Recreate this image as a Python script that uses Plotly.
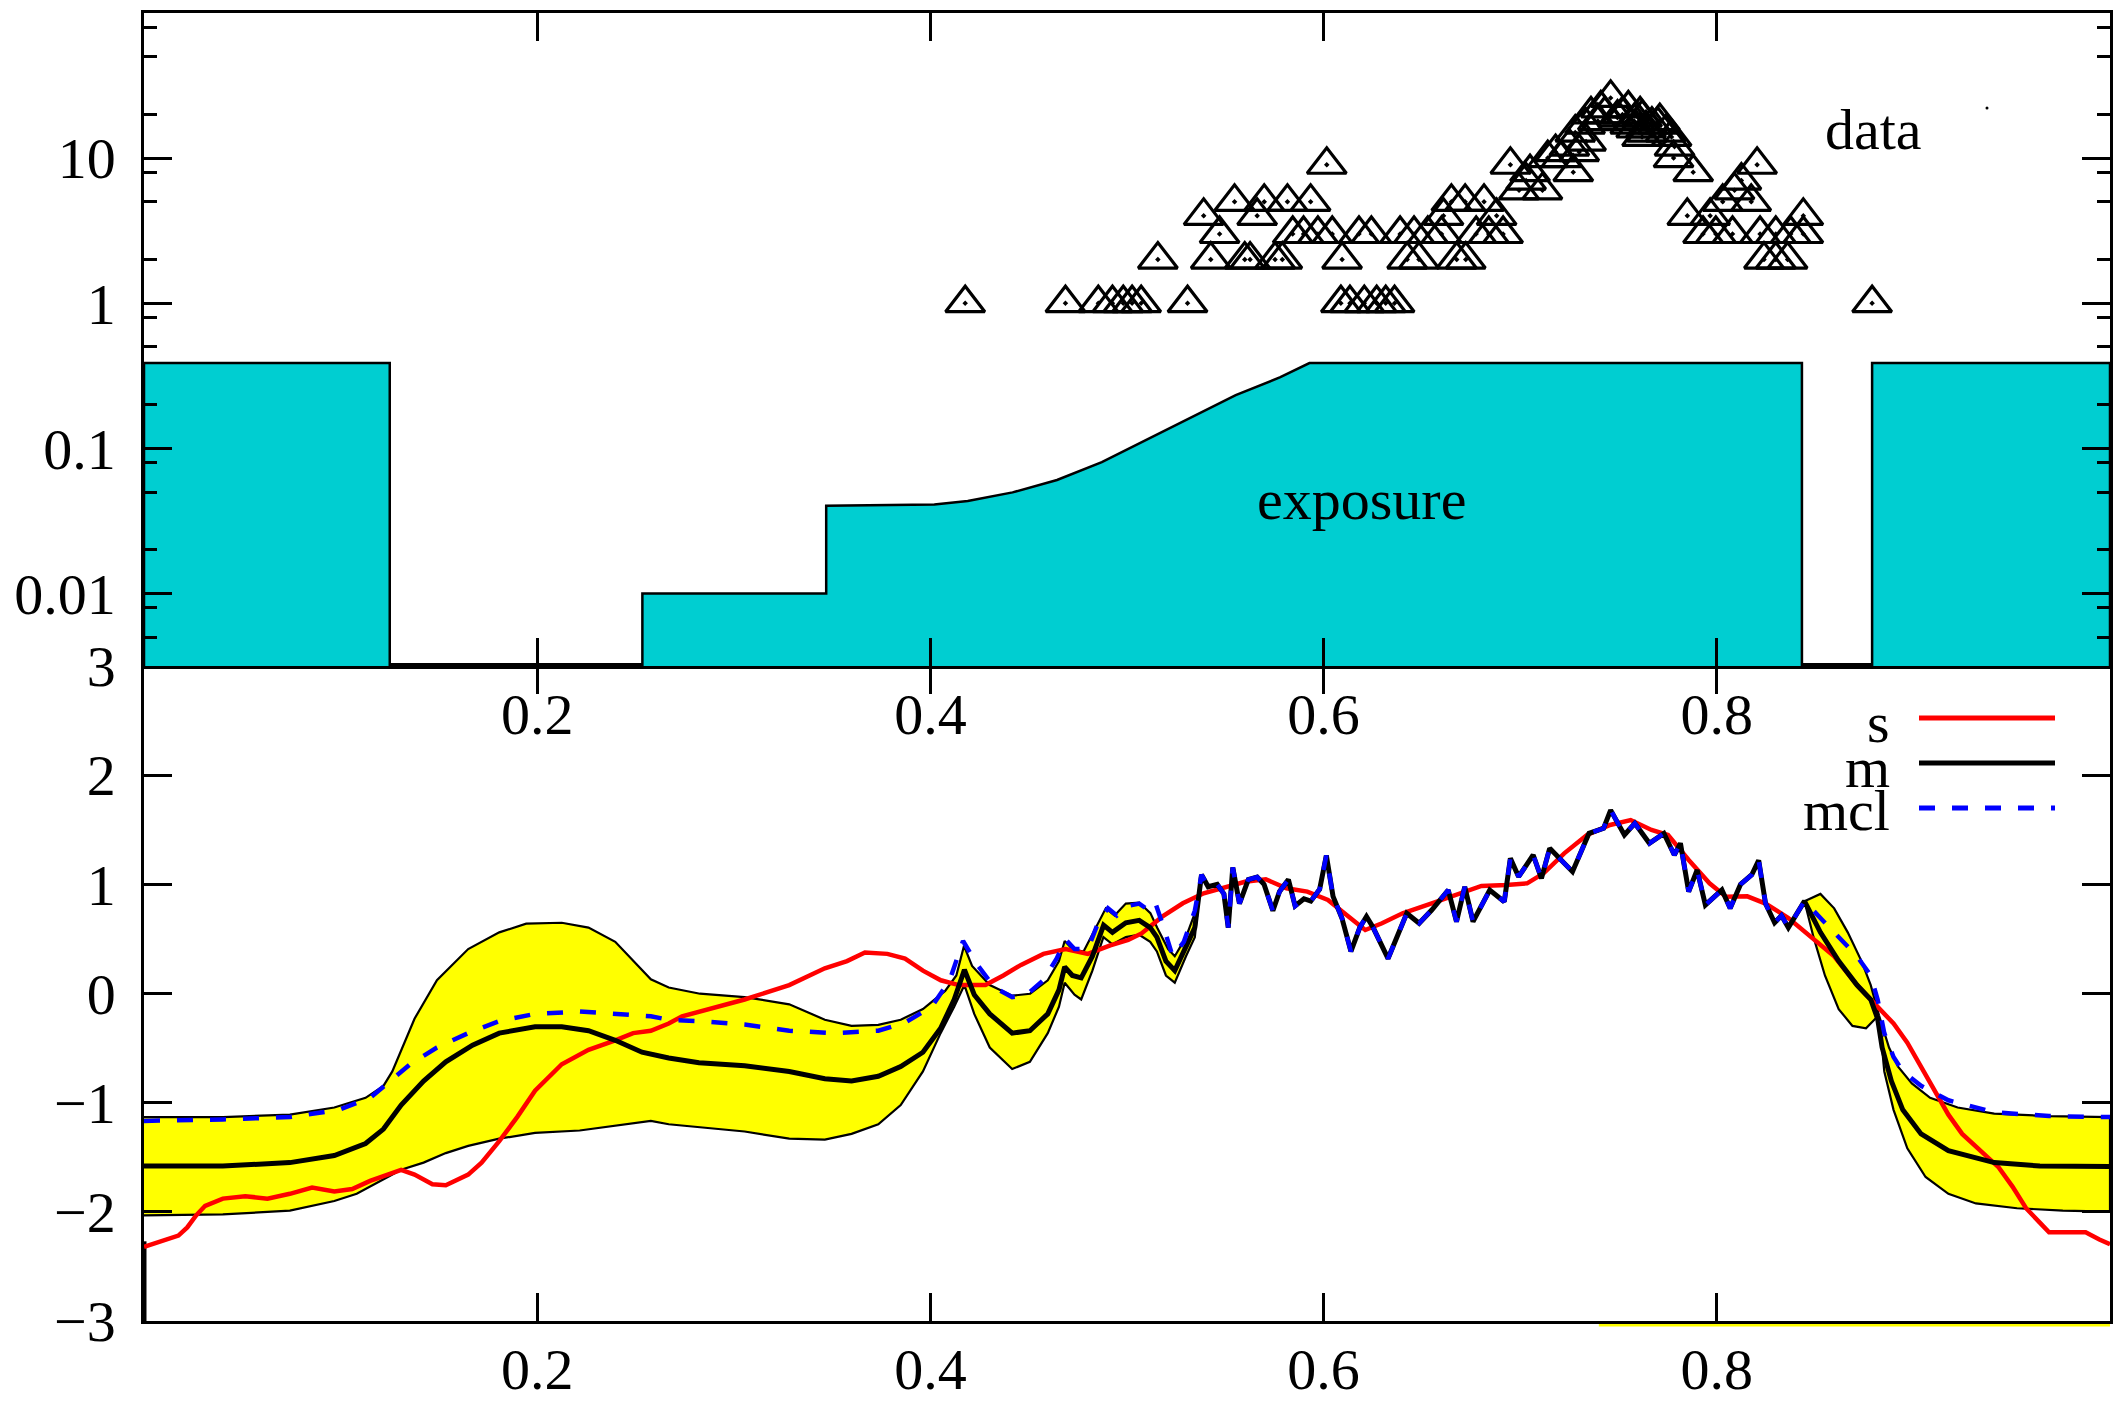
import plotly.graph_objects as go

# ---------------- top panel: exposure (log scale) ----------------
expo_x = [0.0, 0.0, 0.125, 0.125, 0.2535, 0.2535, 0.347, 0.347, 0.402, 0.419,
          0.4418, 0.4644, 0.4872, 0.5099, 0.5326, 0.5553, 0.578, 0.5928,
          0.8433, 0.8433, 0.879, 0.879, 1.0, 1.0]
expo_val = [0, 0.387, 0.387, 0, 0, 0.01, 0.01, 0.0402, 0.041, 0.0434,
            0.0497, 0.0605, 0.0803, 0.1146, 0.163, 0.233, 0.309, 0.387,
            0.387, 0, 0, 0.387, 0.387, 0]

# ---------------- top panel: data counts ----------------
data_x = (
    [0.4177, 0.4687, 0.4854, 0.4926, 0.4981, 0.5026, 0.5072, 0.5308, 0.6088, 0.6134,
     0.6207, 0.627, 0.6316, 0.6361, 0.879]
    + [0.5157, 0.5426, 0.5599, 0.5626, 0.5753, 0.579, 0.6094, 0.6425, 0.6485, 0.6677,
       0.6723, 0.824, 0.830, 0.836]
    + [0.5471, 0.5843, 0.5898, 0.5971, 0.6044, 0.618, 0.6243, 0.6389, 0.646, 0.653,
       0.660, 0.6776, 0.684, 0.6913, 0.793, 0.7995, 0.808, 0.822, 0.830, 0.8376, 0.844]
    + [0.539, 0.5662, 0.661, 0.688, 0.785, 0.7966, 0.844]
    + [0.5547, 0.5698, 0.5816, 0.5934, 0.665, 0.672, 0.6816, 0.803, 0.8175]
    + [0.6994, 0.7113, 0.809]
    + [0.703, 0.8125]
    + [0.705, 0.727, 0.788]
    + [0.6016, 0.695, 0.8205]
    + [0.714, 0.778, 0.721]
    + [0.718, 0.730]
    + [0.725, 0.7785]
    + [0.7335]
    + [0.777, 0.762]
    + [0.728, 0.774, 0.7645]
    + [0.764, 0.759]
    + [0.733, 0.756, 0.767, 0.770]
    + [0.7395, 0.758, 0.771]
    + [0.7495, 0.762]
    + [0.736, 0.743, 0.752, 0.761]
    + [0.741, 0.755]
    + [0.746]
)
data_n = (
    [1] * 15 + [2] * 14 + [3] * 21 + [4] * 7 + [5] * 9 + [6] * 3 + [7] * 2
    + [8] * 3 + [9] * 3 + [10] * 3 + [11] * 2 + [12] * 2 + [13] * 1 + [14] * 2
    + [15] * 3 + [16] * 2 + [17] * 4 + [18] * 3 + [19] * 2 + [20] * 4 + [22] * 2
    + [26] * 1
)

# ---------------- bottom panel: s ----------------
s_x = [0.0, 0.0084, 0.0175, 0.022, 0.0265, 0.0311, 0.0401, 0.0515, 0.0628, 0.0742,
       0.0855, 0.0968, 0.1059, 0.115, 0.1241, 0.1308, 0.1376, 0.1467, 0.1535, 0.1649,
       0.1717, 0.1807, 0.1898, 0.1989, 0.2125, 0.2261, 0.2397, 0.2488, 0.2578, 0.2669,
       0.2737, 0.2823, 0.3055, 0.3282, 0.3463, 0.3576, 0.3667, 0.3781, 0.3871, 0.3962,
       0.4053, 0.4144, 0.428, 0.4371, 0.4461, 0.4575, 0.4688, 0.4801, 0.4915, 0.5006,
       0.5074, 0.5179, 0.5284, 0.539, 0.5495, 0.56, 0.5706, 0.5811, 0.5917, 0.6022,
       0.6128, 0.6212, 0.6297, 0.6402, 0.655, 0.6676, 0.6803, 0.6929, 0.7035, 0.7119,
       0.7224, 0.734, 0.7457, 0.7562, 0.7668, 0.7752, 0.7857, 0.7963, 0.8047, 0.8155,
       0.8248, 0.8364, 0.848, 0.8597, 0.8713, 0.8829, 0.8899, 0.8969, 0.9039, 0.9108,
       0.9178, 0.9248, 0.9341, 0.9434, 0.9504, 0.9573, 0.9643, 0.969, 0.9783, 0.9876,
       0.9946, 1.0]
s_y = [-2.32, -2.275, -2.218, -2.143, -2.033, -1.945, -1.879, -1.857, -1.879, -1.835,
       -1.778, -1.813, -1.791, -1.716, -1.659, -1.615, -1.659, -1.747, -1.756, -1.659,
       -1.549, -1.352, -1.132, -0.89, -0.648, -0.516, -0.429, -0.363, -0.341, -0.275,
       -0.209, -0.17, -0.055, 0.077, 0.231, 0.297, 0.376, 0.363, 0.319, 0.209,
       0.121, 0.077, 0.077, 0.165, 0.262, 0.363, 0.407, 0.363, 0.44, 0.49,
       0.55, 0.704, 0.826, 0.918, 0.973, 1.024, 1.046, 0.964, 0.933, 0.857,
       0.704, 0.582, 0.643, 0.735, 0.826, 0.902, 0.985, 0.994, 1.009, 1.101,
       1.284, 1.452, 1.544, 1.589, 1.498, 1.452, 1.223, 1.009, 0.887, 0.89,
       0.824, 0.692, 0.516, 0.341, 0.077, -0.143, -0.275, -0.451, -0.67, -0.89,
       -1.11, -1.286, -1.44, -1.593, -1.769, -1.967, -2.099, -2.187, -2.187, -2.187,
       -2.253, -2.297]

# ---------------- bottom panel: m and mcl ----------------
m_left_x = [0.0, 0.0401, 0.0742, 0.0968, 0.1127, 0.1218, 0.1308, 0.1422, 0.1535, 0.1671,
            0.1807, 0.1989, 0.2125, 0.2261, 0.2397, 0.2533, 0.2669, 0.2823, 0.3055, 0.3282,
            0.3463, 0.3599, 0.3735, 0.3849, 0.3962, 0.4052, 0.4121, 0.4173, 0.4223, 0.4302,
            0.4416, 0.4506, 0.4597, 0.4654, 0.4683, 0.4722, 0.4767, 0.4824, 0.4881, 0.4926,
            0.4994, 0.5062, 0.5118, 0.5152, 0.5198, 0.5243, 0.53, 0.5345]
m_left_y = [-1.58, -1.58, -1.549, -1.484, -1.374, -1.242, -1.022, -0.802, -0.626, -0.473,
            -0.363, -0.305, -0.305, -0.341, -0.429, -0.538, -0.591, -0.635, -0.662, -0.714,
            -0.78, -0.802, -0.758, -0.67, -0.538, -0.319, -0.055, 0.218, -0.011, -0.187,
            -0.363, -0.341, -0.187, 0.033, 0.244, 0.165, 0.143, 0.341, 0.626, 0.56,
            0.648, 0.67, 0.604, 0.516, 0.297, 0.209, 0.429, 0.604]

# well-constrained stretch where m and mcl coincide
jag_x = [0.5379, 0.5413, 0.5459, 0.5493, 0.5515, 0.5538, 0.5572, 0.5617, 0.5662, 0.5697,
         0.5742, 0.5776, 0.5821, 0.5855, 0.59, 0.5935, 0.598, 0.6014, 0.6048, 0.6093,
         0.6139, 0.6184, 0.6218, 0.6252, 0.6328, 0.6423, 0.6486, 0.655, 0.6634, 0.6676,
         0.6718, 0.676, 0.6845, 0.6919, 0.695, 0.6992, 0.7066, 0.7108, 0.715, 0.7266,
         0.735, 0.7424, 0.746, 0.753, 0.7583, 0.7657, 0.7731, 0.7784, 0.7815, 0.7857,
         0.79, 0.7942, 0.8026, 0.8068, 0.8121, 0.8178, 0.8213, 0.8248, 0.8294, 0.8329,
         0.8364, 0.8446]
jag_y = [1.088, 0.978, 1.0, 0.912, 0.604, 1.154, 0.824, 1.044, 1.066, 1.0,
         0.758, 0.934, 1.044, 0.802, 0.868, 0.846, 0.956, 1.264, 0.89, 0.692,
         0.385, 0.604, 0.705, 0.604, 0.32, 0.735, 0.643, 0.765, 0.948, 0.658,
         0.978, 0.658, 0.948, 0.841, 1.238, 1.07, 1.269, 1.055, 1.33, 1.116,
         1.467, 1.513, 1.68, 1.452, 1.559, 1.376, 1.467, 1.269, 1.376, 0.933,
         1.131, 0.811, 0.948, 0.781, 1.0, 1.088, 1.22, 0.824, 0.648, 0.714,
         0.604, 0.846]

m_right_x = [0.8527, 0.862, 0.8713, 0.8783, 0.8818, 0.8841, 0.8888, 0.8946, 0.9039, 0.9178,
             0.9411, 0.9643, 1.0]
m_right_y = [0.56, 0.297, 0.077, -0.055, -0.231, -0.495, -0.802, -1.066, -1.286, -1.44,
             -1.549, -1.58, -1.585]

mcl_left_x = [0.0, 0.0401, 0.0742, 0.0991, 0.115, 0.1241, 0.1354, 0.149, 0.1649, 0.1807,
              0.1989, 0.2216, 0.2442, 0.2578, 0.2669, 0.2823, 0.3055, 0.3282, 0.3508, 0.3735,
              0.3871, 0.4007, 0.4098, 0.4166, 0.4234, 0.4325, 0.4416, 0.4484, 0.4574, 0.4642,
              0.4688, 0.4733, 0.4801, 0.4858, 0.4903, 0.4948, 0.5005, 0.5062, 0.5096, 0.5141,
              0.5187, 0.5232, 0.5289, 0.5345]
mcl_left_y = [-1.167, -1.154, -1.132, -1.066, -0.956, -0.824, -0.648, -0.495, -0.363, -0.253,
              -0.187, -0.165, -0.187, -0.209, -0.24, -0.253, -0.284, -0.341, -0.363, -0.341,
              -0.266, -0.121, 0.121, 0.481, 0.275, 0.055, -0.033, -0.02, 0.121, 0.319,
              0.495, 0.407, 0.407, 0.67, 0.78, 0.714, 0.802, 0.824, 0.78, 0.846,
              0.604, 0.341, 0.473, 0.758]
mcl_right_x = [0.8527, 0.862, 0.8713, 0.8783, 0.8818, 0.8852, 0.8899, 0.8946, 0.9039, 0.9178,
               0.9411, 0.969, 1.0]
mcl_right_y = [0.692, 0.516, 0.341, 0.165, -0.055, -0.363, -0.582, -0.714, -0.846, -0.978,
               -1.088, -1.123, -1.132]

# ---------------- bottom panel: confidence band ----------------
bandA_hi_x = [0.0, 0.0401, 0.0742, 0.0968, 0.1127, 0.1218, 0.1263, 0.1308, 0.1376, 0.149,
              0.1649, 0.1807, 0.1944, 0.2125, 0.2261, 0.2397, 0.251, 0.2578, 0.2669, 0.2828,
              0.3055, 0.3282, 0.3463, 0.3599, 0.3735, 0.3849, 0.3962, 0.4075, 0.4132, 0.4171,
              0.4212, 0.4302, 0.4416, 0.4507, 0.4597, 0.4654, 0.4683, 0.4722, 0.4779, 0.4835,
              0.4892, 0.4937, 0.4994, 0.5062, 0.5119, 0.5153, 0.5209, 0.5243, 0.53, 0.5345,
              0.5379]
bandA_hi_y = [-1.132, -1.132, -1.11, -1.044, -0.956, -0.846, -0.714, -0.516, -0.231, 0.121,
              0.407, 0.56, 0.64, 0.648, 0.604, 0.473, 0.253, 0.13, 0.055, -0.002,
              -0.033, -0.099, -0.24, -0.297, -0.288, -0.24, -0.143, 0.024, 0.165, 0.437,
              0.253, 0.077, -0.02, -0.002, 0.121, 0.297, 0.481, 0.407, 0.385, 0.582,
              0.78, 0.714, 0.824, 0.833, 0.736, 0.604, 0.407, 0.341, 0.516, 0.736,
              1.088]
bandA_lo_x = [0.0, 0.0401, 0.0742, 0.0968, 0.1082, 0.124, 0.1308, 0.1422, 0.1535, 0.1649,
              0.1807, 0.1989, 0.2216, 0.2442, 0.2578, 0.2669, 0.2828, 0.3055, 0.3282, 0.3463,
              0.3599, 0.3735, 0.3849, 0.3962, 0.4052, 0.4121, 0.4173, 0.4223, 0.4302, 0.4416,
              0.4506, 0.4597, 0.4654, 0.4683, 0.4733, 0.4767, 0.4824, 0.488, 0.4926, 0.4994,
              0.5062, 0.5118, 0.5152, 0.5198, 0.5243, 0.53, 0.5345, 0.5379]
bandA_lo_y = [-2.033, -2.024, -1.989, -1.901, -1.835, -1.681, -1.615, -1.549, -1.462, -1.396,
              -1.33, -1.277, -1.255, -1.198, -1.167, -1.198, -1.225, -1.264, -1.33, -1.339,
              -1.286, -1.198, -1.022, -0.714, -0.363, -0.121, 0.077, -0.187, -0.495, -0.692,
              -0.626, -0.363, -0.121, 0.099, -0.011, -0.055, 0.209, 0.516, 0.451, 0.516,
              0.538, 0.473, 0.385, 0.165, 0.099, 0.341, 0.516, 1.088]

bandB_hi_x = [0.8446, 0.8527, 0.8597, 0.8666, 0.8736, 0.8783, 0.8825, 0.8876, 0.8922, 0.8992,
              0.9085, 0.9225, 0.9411, 0.969, 1.0]
bandB_hi_y = [0.846, 0.912, 0.78, 0.56, 0.297, 0.077, -0.2, -0.495, -0.67, -0.824,
              -0.956, -1.044, -1.101, -1.123, -1.132]
bandB_lo_x = [0.8446, 0.8492, 0.855, 0.862, 0.869, 0.8759, 0.8806, 0.8825, 0.8852, 0.8899,
              0.8969, 0.9062, 0.9178, 0.9318, 0.9527, 0.976, 1.0]
bandB_lo_y = [0.846, 0.516, 0.165, -0.143, -0.297, -0.319, -0.231, -0.2, -0.714, -1.066,
              -1.418, -1.681, -1.835, -1.923, -1.967, -1.989, -1.998]

# short stubs drawn along the frame
edge_x = [0.0, 0.0]
edge_y = [-2.27, -3.0]
base_x = [0.74, 1.0]

x_ticks = [0.2, 0.4, 0.6, 0.8]
x_labels = ["0.2", "0.4", "0.6", "0.8"]
low_ticks = [-3, -2, -1, 0, 1, 2, 3]
low_labels = ["\u22123", "\u22122", "\u22121", "0", "1", "2", "3"]
top_ticks = [0.01, 0.1, 1, 10]
top_labels = ["0.01", "0.1", "1", "10"]
top_minor = [0.005, 0.008, 0.02, 0.05, 0.08, 0.2, 0.5, 0.8, 2, 5, 8, 20, 50, 80]

# ---------------- canvas geometry (pixels) ----------------
W, H = 2114, 1401
L, R, T, B = 144, 2110, 13, 1321
SPLIT = 666
SPLIT_FRAC = (B - SPLIT) / (B - T)


def px(X):
    return (X - L) / (R - L)


def py(Y):
    return (B - Y) / (B - T)


FONT = dict(family="Liberation Serif, Times New Roman, serif", size=58, color="black")
EXPO_FLOOR = 10 ** -2.52  # zero exposure sits just below the visible log range
CYAN = "#00CED1"
YELLOW = "#FFFF00"

fig = go.Figure()

# exposure: filled area, then its outline without the runs along zero exposure
expo_plot = [v if v > 0 else EXPO_FLOOR for v in expo_val]
fig.add_trace(go.Scatter(
    x=expo_x, y=expo_plot, xaxis="x2", yaxis="y2", mode="lines", fill="toself",
    fillcolor=CYAN, line=dict(width=0), hoverinfo="skip"))
outline_x, outline_y = [], []
for i, (xv, yv) in enumerate(zip(expo_x, expo_val)):
    if i > 0 and yv == 0 and expo_val[i - 1] == 0:
        outline_x.append(None)
        outline_y.append(None)
    outline_x.append(xv)
    outline_y.append(expo_plot[i])
fig.add_trace(go.Scatter(
    x=outline_x, y=outline_y, xaxis="x2", yaxis="y2", mode="lines",
    line=dict(color="black", width=2.5), connectgaps=False, hoverinfo="skip"))

# data counts
fig.add_trace(go.Scatter(
    x=data_x, y=data_n, xaxis="x2", yaxis="y2", mode="markers",
    marker=dict(symbol="triangle-up-open-dot", size=34, color="black",
                line=dict(color="black", width=3.2)),
    hoverinfo="skip"))

# confidence band
for hx, hy, lx, ly in [(bandA_hi_x, bandA_hi_y, bandA_lo_x, bandA_lo_y),
                       (bandB_hi_x, bandB_hi_y, bandB_lo_x, bandB_lo_y)]:
    fig.add_trace(go.Scatter(
        x=hx + lx[::-1], y=hy + ly[::-1], mode="lines", fill="toself",
        fillcolor=YELLOW, line=dict(color="black", width=2.2), hoverinfo="skip"))

fig.add_trace(go.Scatter(x=edge_x, y=edge_y, mode="lines",
                         line=dict(color="black", width=5), hoverinfo="skip"))

# s
fig.add_trace(go.Scatter(x=s_x, y=s_y, mode="lines",
                         line=dict(color="#FF0000", width=4.5), hoverinfo="skip"))
# m
fig.add_trace(go.Scatter(x=m_left_x + jag_x + m_right_x, y=m_left_y + jag_y + m_right_y,
                         mode="lines", line=dict(color="black", width=5), hoverinfo="skip"))
# mcl
fig.add_trace(go.Scatter(x=mcl_left_x + jag_x + mcl_right_x,
                         y=mcl_left_y + jag_y + mcl_right_y, mode="lines",
                         line=dict(color="#0000FF", width=4.5, dash="16px,17px"),
                         hoverinfo="skip"))

axis_common = dict(showgrid=False, zeroline=False, showline=True, linecolor="black",
                   linewidth=2.5, ticks="inside", ticklen=28, tickwidth=2.5,
                   tickcolor="black", mirror="ticks", tickfont=FONT, automargin=False)

shapes = [
    # thin yellow edge just under the bottom frame
    dict(type="line", xref="x", yref="paper", x0=base_x[0], x1=base_x[1],
         y0=-0.003, y1=-0.003, line=dict(color=YELLOW, width=3), layer="below"),
    # key samples
    dict(type="line", xref="paper", yref="paper", x0=px(1919), x1=px(2055),
         y0=py(718), y1=py(718), line=dict(color="#FF0000", width=5)),
    dict(type="line", xref="paper", yref="paper", x0=px(1919), x1=px(2055),
         y0=py(763), y1=py(763), line=dict(color="black", width=5)),
    dict(type="line", xref="paper", yref="paper", x0=px(1919), x1=px(2055),
         y0=py(808), y1=py(808), line=dict(color="#0000FF", width=5, dash="16px,17px")),
    dict(type="circle", xref="paper", yref="paper", x0=px(1985.5), x1=px(1988.5),
         y0=py(109.5), y1=py(106.5), fillcolor="black", line=dict(width=0)),
]

annotations = [
    dict(text="s", x=px(1892), y=py(722), xref="paper", yref="paper",
         xanchor="right", yanchor="middle", showarrow=False, font=FONT),
    dict(text="m", x=px(1892), y=py(767), xref="paper", yref="paper",
         xanchor="right", yanchor="middle", showarrow=False, font=FONT),
    dict(text="mcl", x=px(1892), y=py(810), xref="paper", yref="paper",
         xanchor="right", yanchor="middle", showarrow=False, font=FONT),
    dict(text="data", x=px(1873), y=py(129), xref="paper", yref="paper",
         xanchor="center", yanchor="middle", showarrow=False, font=FONT),
    dict(text="exposure", x=px(1361), y=py(499), xref="paper", yref="paper",
         xanchor="center", yanchor="middle", showarrow=False, font=FONT),
]

fig.update_layout(
    width=W, height=H,
    margin=dict(l=L, r=W - R, t=T, b=H - B, pad=0, autoexpand=False),
    paper_bgcolor="white", plot_bgcolor="white",
    showlegend=False, font=FONT,
    xaxis=dict(domain=[0, 1], range=[0, 1], anchor="y", tickvals=x_ticks,
               ticktext=x_labels, ticklabelstandoff=-4, **axis_common),
    yaxis=dict(domain=[0, SPLIT_FRAC], range=[-3, 3], anchor="x", tickvals=low_ticks,
               ticktext=low_labels, ticklabelstandoff=14, **axis_common),
    xaxis2=dict(domain=[0, 1], range=[0, 1], anchor="y2", tickvals=x_ticks,
                ticktext=x_labels, ticklabelstandoff=-4, **axis_common),
    yaxis2=dict(domain=[SPLIT_FRAC, 1], type="log", range=[-2.5, 2.0], anchor="x2",
                tickvals=top_ticks, ticktext=top_labels, ticklabelstandoff=14,
                minor=dict(tickvals=top_minor, ticks="inside", ticklen=13,
                           tickwidth=2.5, tickcolor="black"),
                **axis_common),
    shapes=shapes, annotations=annotations,
)

fig.write_html("out.html")
